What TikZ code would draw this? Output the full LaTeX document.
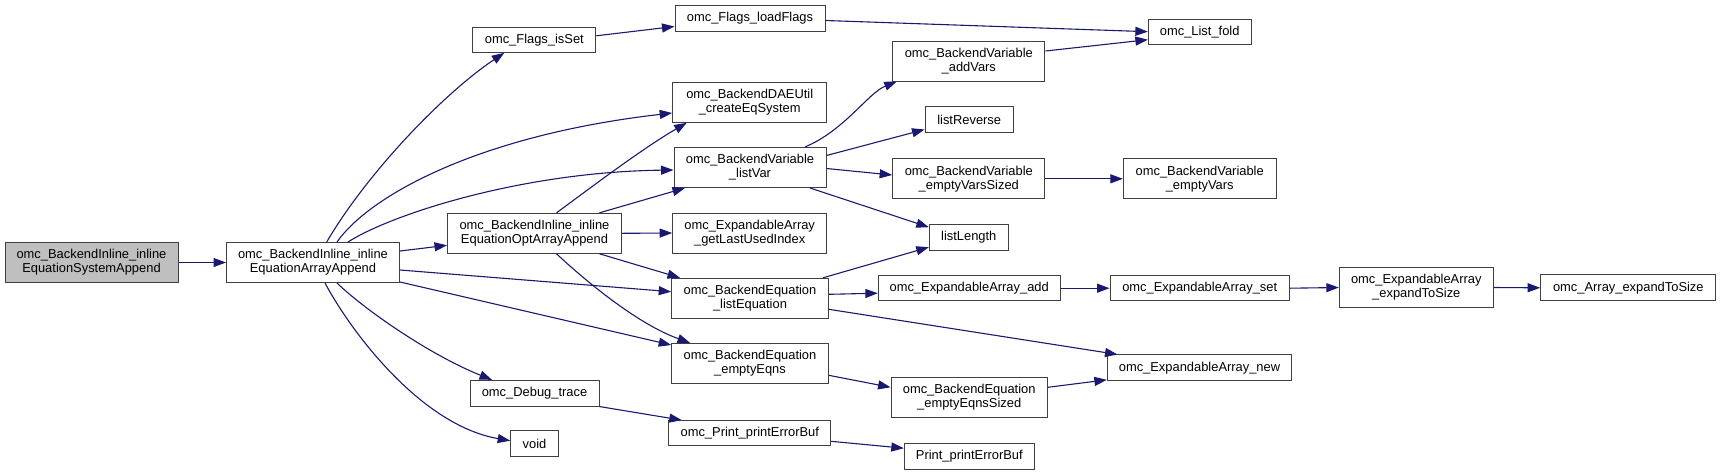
\documentclass[tikz,border=0pt]{standalone}
\usepackage{fontspec}
\setmainfont{Liberation Sans}
\usetikzlibrary{arrows.meta}
\definecolor{edgec}{HTML}{191970}
\definecolor{bordc}{HTML}{404040}
\definecolor{rootfill}{HTML}{BFBFBF}
\begin{document}
\begin{tikzpicture}[x=1pt,y=-1pt,
  box/.style={draw=bordc, fill=white, line width=1pt, inner sep=0pt, align=center,
    font=\fontsize{12.9}{14}\selectfont},
  sz/.style 2 args={minimum width=#1, minimum height=#2},
  arr/.style={draw=edgec, line width=1.1pt, -{Triangle[length=12.5pt,width=9pt]}, fill=none}
]
\useasboundingbox (0,0) rectangle (1721,475);

% nodes
\node[box, sz={173pt}{40pt}, fill=rootfill] (root) at (91.5,262.5) {omc\_BackendInline\_inline\\EquationSystemAppend};
\node[box, sz={173pt}{40pt}] (ia) at (313,262.5) {omc\_BackendInline\_inline\\EquationArrayAppend};
\node[box, sz={123pt}{25pt}] (isset) at (534.3,39.8) {omc\_Flags\_isSet};
\node[box, sz={150pt}{25.6pt}] (load) at (750,18.5) {omc\_Flags\_loadFlags};
\node[box, sz={154pt}{40pt}] (dae) at (749.7,102.3) {omc\_BackendDAEUtil\\\_createEqSystem};
\node[box, sz={152pt}{40pt}] (lv) at (750,167.5) {omc\_BackendVariable\\\_listVar};
\node[box, sz={174pt}{40pt}] (opt) at (534.5,233.3) {omc\_BackendInline\_inline\\EquationOptArrayAppend};
\node[box, sz={154pt}{40pt}] (glu) at (749.7,233) {omc\_ExpandableArray\\\_getLastUsedIndex};
\node[box, sz={156.6pt}{40pt}] (le) at (750,298.3) {omc\_BackendEquation\\\_listEquation};
\node[box, sz={156.6pt}{40pt}] (ee) at (750,363.3) {omc\_BackendEquation\\\_emptyEqns};
\node[box, sz={129pt}{25.7pt}] (dbg) at (534.5,393.2) {omc\_Debug\_trace};
\node[box, sz={47.6pt}{26pt}] (void) at (534.5,443.7) {void};
\node[box, sz={161.7pt}{25.3pt}] (ppe) at (749.8,433.3) {omc\_Print\_printErrorBuf};
\node[box, sz={102.7pt}{25.3pt}] (fold) at (1199.7,31.7) {omc\_List\_fold};
\node[box, sz={152.3pt}{40pt}] (addv) at (968.8,61) {omc\_BackendVariable\\\_addVars};
\node[box, sz={88.3pt}{25.6pt}] (rev) at (969.2,119.5) {listReverse};
\node[box, sz={152.3pt}{40pt}] (evs) at (968.8,178.8) {omc\_BackendVariable\\\_emptyVarsSized};
\node[box, sz={152.7pt}{40pt}] (ev) at (1199.7,178.8) {omc\_BackendVariable\\\_emptyVars};
\node[box, sz={79pt}{25.7pt}] (ll) at (968.8,237.2) {listLength};
\node[box, sz={181.7pt}{25pt}] (add) at (969.2,288.2) {omc\_ExpandableArray\_add};
\node[box, sz={179.3pt}{25pt}] (set) at (1199.7,288.2) {omc\_ExpandableArray\_set};
\node[box, sz={184.3pt}{25.7pt}] (new) at (1199.5,367.8) {omc\_ExpandableArray\_new};
\node[box, sz={156.3pt}{40pt}] (ees) at (969.2,397.3) {omc\_BackendEquation\\\_emptyEqnsSized};
\node[box, sz={130pt}{25.7pt}] (pe) at (969.3,456.2) {Print\_printErrorBuf};
\node[box, sz={154pt}{40.3pt}] (ets) at (1416.3,287.5) {omc\_ExpandableArray\\\_expandToSize};
\node[box, sz={175.3pt}{25.7pt}] (aets) at (1628.3,287.8) {omc\_Array\_expandToSize};

% edges
\draw[arr] (root.east) -- (ia.west);
\draw[arr] ([xshift=13.7pt]ia.north) .. controls (367,173) and (444,93) .. ([xshift=-30pt]isset.south);
\draw[arr] ([xshift=24pt]ia.north) .. controls (370,195) and (480,135) .. ([yshift=-10.7pt]dae.west);
\draw[arr] ([xshift=35pt]ia.north) .. controls (390,215) and (520,172) .. ([yshift=-2.5pt]lv.west);
\draw[arr] ([yshift=11.5pt]ia.east) -- ([yshift=-12pt]opt.west);
\draw[arr] ([yshift=-7.5pt]ia.east) -- ([yshift=6.6pt]le.west);
\draw[arr] ([yshift=-19.5pt]ia.east) -- ([yshift=18.3pt]ee.west);
\draw[arr] ([xshift=24pt]ia.south) .. controls (365,310) and (430,355) .. ([xshift=-42.5pt]dbg.north);
\draw[arr] ([xshift=12pt]ia.south) .. controls (350,330) and (420,425) .. ([yshift=3pt]void.west);

\draw[arr] ([xshift=22pt]opt.north) .. controls (585,192) and (640,150) .. ([xshift=-63pt]dae.south);
\draw[arr] ([xshift=65pt]opt.north) -- ([xshift=-65pt]lv.south);
\draw[arr] (opt.east) -- (glu.west);
\draw[arr] ([xshift=65pt]opt.south) -- ([xshift=-70pt]le.north);
\draw[arr] ([xshift=22pt]opt.south) .. controls (590,285) and (640,325) .. ([xshift=-60pt]ee.north);

\draw[arr] ([yshift=4pt]isset.east) -- ([yshift=-8pt]load.west);
\draw[arr] ([yshift=-2pt]load.east) -- (fold.west);
\draw[arr] ([yshift=10pt]addv.east) -- ([yshift=-8pt]fold.west);

\draw[arr] ([xshift=55pt]lv.north) .. controls (845,130) and (868,93) .. ([xshift=-72pt]addv.south);
\draw[arr] ([yshift=12pt]lv.east) -- ([yshift=-10pt]rev.west);
\draw[arr] ([yshift=-1pt]lv.east) -- ([yshift=3.8pt]evs.west);
\draw[arr] ([xshift=60pt]lv.south) -- ([yshift=10pt]ll.west);
\draw[arr] (evs.east) -- (ev.west);

\draw[arr] ([xshift=73pt]le.north) -- ([yshift=-10pt]ll.west);
\draw[arr] ([yshift=4pt]le.east) -- ([yshift=-5pt]add.west);
\draw[arr] ([yshift=-11pt]le.east) -- ([xshift=-82pt]new.north);
\draw[arr] (add.east) -- (set.west);
\draw[arr] (set.east) -- (ets.west);
\draw[arr] (ets.east) -- (aets.west);

\draw[arr] ([yshift=-12pt]ee.east) -- ([yshift=10pt]ees.west);
\draw[arr] ([yshift=10pt]ees.east) -- ([yshift=-12pt]new.west);
\draw[arr] (dbg.south east) -- ([xshift=-68pt]ppe.north);
\draw[arr] ([yshift=-8pt]ppe.east) -- ([yshift=8pt]pe.west);
\end{tikzpicture}
\end{document}
